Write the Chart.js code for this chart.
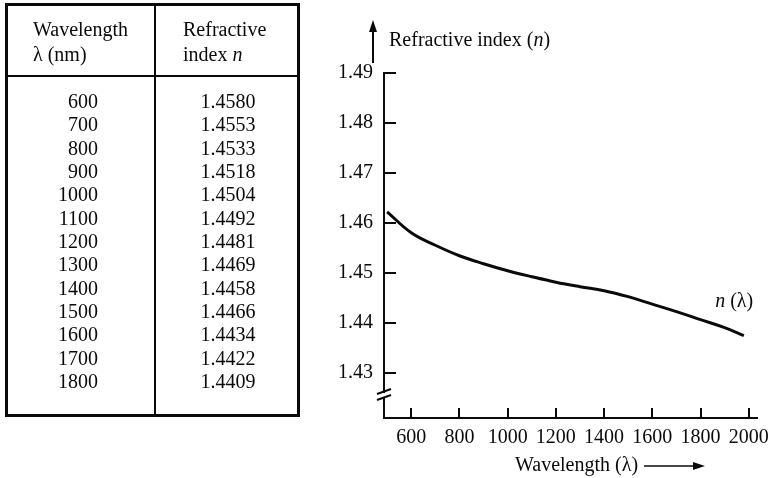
<!DOCTYPE html>
<html>
<head>
<meta charset="utf-8">
<script src="https://cdn.jsdelivr.net/npm/chart.js@4.4.1/dist/chart.umd.min.js"></script>
<style>
  body { margin: 0; background: #fff; width: 777px; height: 478px; overflow: hidden; position: relative;
         font-family: "Liberation Serif", "DejaVu Serif", serif; color: #0a0a0a; }
  #chart { position: absolute; left: 0; top: 0; }
  .box { position: absolute; left: 5px; top: 3px; width: 295px; height: 414px; border: 3px solid #0a0a0a; box-sizing: border-box; }
  .vline { position: absolute; left: 154px; top: 3px; width: 2px; height: 414px; background: #0a0a0a; }
  .hline { position: absolute; left: 5px; top: 75px; width: 295px; height: 2px; background: #0a0a0a; }
  .hd { position: absolute; top: 17px; font-size: 20px; line-height: 25px; white-space: nowrap; }
  .col { position: absolute; top: 90px; font-size: 20px; line-height: 23.33px; }
  #colL { left: 8px; width: 90px; text-align: right; }
  #colR { left: 156px; width: 144px; text-align: center; }
</style>
</head>
<body>
<canvas id="chart" width="777" height="478"></canvas>

<div class="box"></div>
<div class="vline"></div>
<div class="hline"></div>
<div class="hd" style="left:33px">Wavelength<br>λ (nm)</div>
<div class="hd" style="left:183px">Refractive<br>index <i>n</i></div>
<div id="colL" class="col"></div>
<div id="colR" class="col"></div>

<script>
// table columns
const tableWavelength = ['600', '700', '800', '900', '1000', '1100', '1200', '1300', '1400', '1500', '1600', '1700', '1800'];
const tableIndex = ['1.4580', '1.4553', '1.4533', '1.4518', '1.4504', '1.4492', '1.4481', '1.4469', '1.4458', '1.4466', '1.4434', '1.4422', '1.4409'];

// dispersion curve n(λ)
const curveWavelength = [500, 600, 700, 800, 900, 1000, 1100, 1200, 1300, 1400, 1500, 1600, 1700, 1800, 1900, 1980];
const curveIndex = [1.4622, 1.4580, 1.4555, 1.4534, 1.4518, 1.4504, 1.4492, 1.4481, 1.4472, 1.4464, 1.4452, 1.4437, 1.4422, 1.4406, 1.4390, 1.4374];

// axis ticks
const xTicks = [600, 800, 1000, 1200, 1400, 1600, 1800, 2000];
const yTicks = [1.43, 1.44, 1.45, 1.46, 1.47, 1.48, 1.49];

document.getElementById('colL').innerHTML = tableWavelength.join('<br>');
document.getElementById('colR').innerHTML = tableIndex.join('<br>');

const FONT = '"Liberation Serif", "DejaVu Serif", serif';
const INK = '#0a0a0a';

function drawParts(ctx, parts, x, y) {
  parts.forEach(p => {
    ctx.font = (p.italic ? 'italic ' : '') + '20px ' + FONT;
    ctx.fillText(p.t, x, y);
    x += ctx.measureText(p.t).width;
  });
  return x;
}

function arrow(ctx, x1, y1, x2, y2) {
  const ang = Math.atan2(y2 - y1, x2 - x1);
  const hl = 12, hw = 4;
  const bx = x2 - hl * Math.cos(ang), by = y2 - hl * Math.sin(ang);
  ctx.beginPath();
  ctx.moveTo(x1, y1);
  ctx.lineTo(bx, by);
  ctx.stroke();
  ctx.beginPath();
  ctx.moveTo(x2, y2);
  ctx.lineTo(bx + hw * Math.sin(ang), by - hw * Math.cos(ang));
  ctx.lineTo(bx - hw * Math.sin(ang), by + hw * Math.cos(ang));
  ctx.closePath();
  ctx.fill();
}

// inward tick marks, the axis break, arrows and axis captions
const decorations = {
  id: 'decorations',
  afterDraw(chart) {
    const { ctx, chartArea: area, scales: { x, y } } = chart;
    ctx.save();
    ctx.strokeStyle = INK;
    ctx.fillStyle = INK;
    ctx.lineWidth = 2;

    yTicks.forEach(v => {
      const py = Math.round(y.getPixelForValue(v));
      ctx.beginPath();
      ctx.moveTo(area.left, py);
      ctx.lineTo(area.left + 12, py);
      ctx.stroke();
    });
    xTicks.forEach(v => {
      const px = Math.round(x.getPixelForValue(v));
      ctx.beginPath();
      ctx.moveTo(px, area.bottom);
      ctx.lineTo(px, area.bottom - 10);
      ctx.stroke();
    });

    // break on the y axis
    const bk = y.getPixelForValue(1.4255);
    ctx.fillStyle = '#fff';
    ctx.fillRect(area.left - 3, bk - 2, 6, 5);
    ctx.fillStyle = INK;
    ctx.beginPath();
    ctx.moveTo(area.left - 7, bk - 1);
    ctx.lineTo(area.left + 7, bk - 6);
    ctx.moveTo(area.left - 7, bk + 5);
    ctx.lineTo(area.left + 7, bk);
    ctx.stroke();

    // y caption
    ctx.lineWidth = 2;
    arrow(ctx, area.left - 11, area.top - 10, area.left - 11, area.top - 53);
    ctx.textBaseline = 'middle';
    ctx.textAlign = 'left';
    drawParts(ctx, [{ t: 'Refractive index (' }, { t: 'n', italic: true }, { t: ')' }], area.left + 5, area.top - 32);

    // x caption
    const endX = drawParts(ctx, [{ t: 'Wavelength (λ)' }], 515, area.bottom + 48);
    ctx.lineWidth = 1.5;
    arrow(ctx, endX + 6, area.bottom + 48, 705, area.bottom + 48);

    // curve label
    drawParts(ctx, [{ t: 'n', italic: true }, { t: ' (λ)' }], x.getPixelForValue(1861), y.getPixelForValue(1.4442));
    ctx.restore();
  }
};

new Chart(document.getElementById('chart'), {
  type: 'line',
  data: {
    datasets: [{
      data: curveWavelength.map((w, i) => ({ x: w, y: curveIndex[i] })),
      borderColor: INK,
      borderWidth: 3,
      pointRadius: 0,
      tension: 0.4,
      fill: false
    }]
  },
  options: {
    responsive: false,
    animation: false,
    layout: { padding: { left: 324, right: 12, top: 73, bottom: 0 } },
    plugins: { legend: { display: false }, tooltip: { enabled: false } },
    scales: {
      x: {
        type: 'linear',
        min: 487,
        max: 2037,
        afterFit: s => { s.height = 60; },
        afterBuildTicks: s => { s.ticks = xTicks.map(v => ({ value: v })); },
        grid: { display: false, drawTicks: false },
        border: { display: true, color: INK, width: 2 },
        ticks: { color: INK, padding: 8, maxRotation: 0, autoSkip: false,
                 font: { family: FONT, size: 20 }, callback: v => String(v) }
      },
      y: {
        type: 'linear',
        min: 1.4209,
        max: 1.49,
        afterFit: s => { s.width = 60; },
        afterBuildTicks: s => { s.ticks = yTicks.map(v => ({ value: v })); },
        grid: { display: false, drawTicks: false },
        border: { display: true, color: INK, width: 2 },
        ticks: { color: INK, padding: 11, autoSkip: false,
                 font: { family: FONT, size: 20 }, callback: v => v.toFixed(2) }
      }
    }
  },
  plugins: [decorations]
});
</script>
</body>
</html>
